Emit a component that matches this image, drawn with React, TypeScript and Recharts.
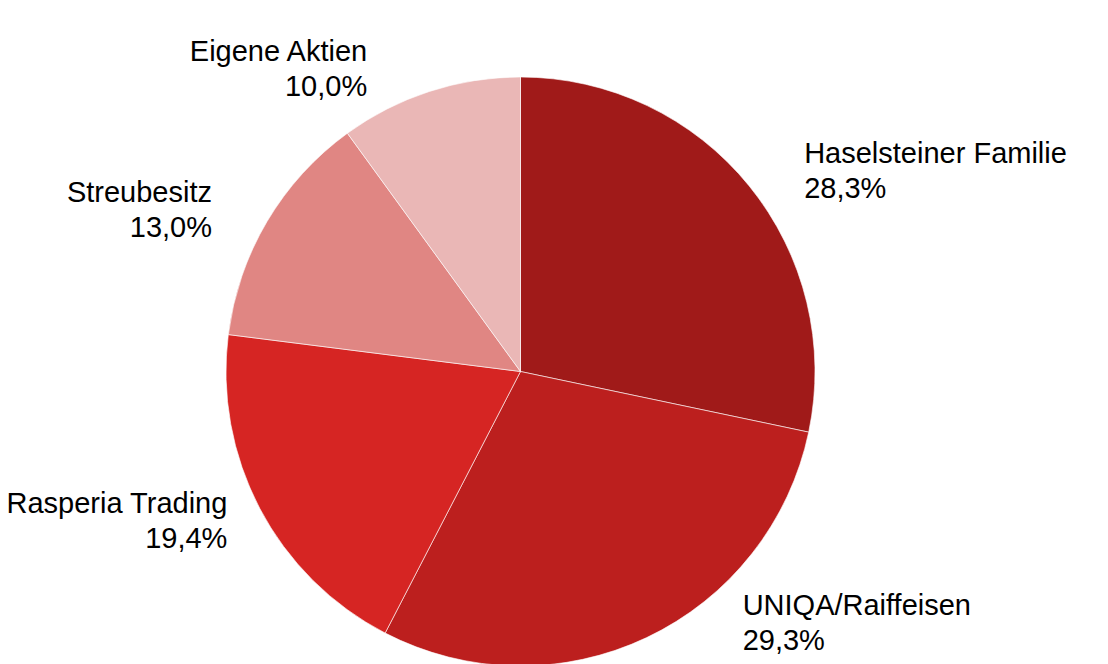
import React from 'react';
import { PieChart, Pie, Cell } from 'recharts';

const owners = ['Haselsteiner Familie', 'UNIQA/Raiffeisen', 'Rasperia Trading', 'Streubesitz', 'Eigene Aktien'];
const shares = [28.3, 29.3, 19.4, 13.0, 10.0];
const colors = ['#A01A19', '#BC1F1E', '#D62523', '#E08683', '#EAB7B6'];

const data = owners.map((name, i) => ({ name, value: shares[i] }));

const W = 1108;
const H = 664;
const FONT_SIZE = 29;
const FONT = "'Liberation Sans', Arial, sans-serif";
const RADIAN = Math.PI / 180;

let ctx: CanvasRenderingContext2D | null = null;
const textWidth = (s: string) => {
  if (!ctx) ctx = document.createElement('canvas').getContext('2d');
  if (!ctx) return s.length * FONT_SIZE * 0.55;
  ctx.font = `${FONT_SIZE}px ${FONT}`;
  return ctx.measureText(s).width;
};

// place the two-line label beside the slice, keeping it off the pie and inside the chart
const renderLabel = (props: any) => {
  const { cx, cy, midAngle, outerRadius, name, value } = props;
  const cos = Math.cos(-midAngle * RADIAN);
  const sin = Math.sin(-midAngle * RADIAN);
  const side = cos >= 0 ? 1 : -1;
  const pct = value.toFixed(1).replace('.', ',') + '%';
  const w = Math.max(textWidth(name), textWidth(pct));

  let yc = cy + (outerRadius + 25) * sin;
  yc = Math.max(40, Math.min(H - 42, yc));

  const half = 35;
  const near = yc - half <= cy && yc + half >= cy ? 0 : Math.min(Math.abs(yc - half - cy), Math.abs(yc + half - cy));
  const clear = Math.sqrt(Math.max(0, (outerRadius + 15) ** 2 - near ** 2));
  let dx = Math.max(outerRadius * Math.abs(cos) + 55, clear);
  if (side < 0) dx = Math.min(dx, cx - w - 6);
  else dx = Math.min(dx, W - cx - w - 6);
  const x = cx + side * dx;

  return (
    <text x={x} y={yc} textAnchor={side > 0 ? 'start' : 'end'} fill="#000" fontSize={FONT_SIZE} fontFamily={FONT}>
      <tspan x={x} y={yc - 7}>{name}</tspan>
      <tspan x={x} y={yc + 28}>{pct}</tspan>
    </text>
  );
};

const App: React.FC = () => {
  return (
    <div style={{ position: 'absolute', left: 0, top: 0, width: W, height: H, background: '#fff' }}>
      <PieChart width={W} height={H} margin={{ top: 0, right: 0, bottom: 0, left: 0 }}>
        <Pie
          data={data}
          dataKey="value"
          nameKey="name"
          cx={520.5}
          cy={371.5}
          outerRadius={294.5}
          startAngle={90}
          endAngle={-270}
          stroke="#fff"
          strokeWidth={0.6}
          label={renderLabel}
          labelLine={false}
          isAnimationActive={false}
        >
          {data.map((d, i) => (
            <Cell key={d.name} fill={colors[i]} />
          ))}
        </Pie>
      </PieChart>
    </div>
  );
};

export default App;
